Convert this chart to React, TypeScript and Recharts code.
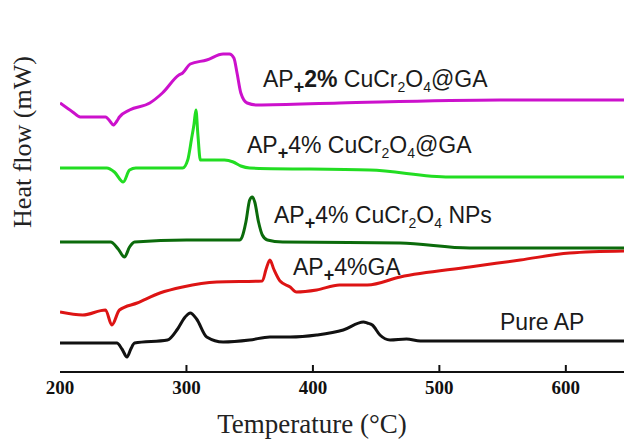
import { LineChart, Line, XAxis, YAxis } from "recharts";

// temperature (°C) / heat flow (arbitrary, stacked offsets)
const pureApT = [200, 245, 249, 253, 256, 259, 285, 293, 299, 303, 308, 316, 329, 350, 366, 382, 403, 424, 440, 443, 447, 453, 461, 474, 485, 646];
const pureApQ = [29, 29, 23, 15, 23, 29, 32, 43, 55, 59, 53, 35, 30, 32, 35, 35, 37, 42, 50, 49, 47, 37, 32, 33, 31, 31];

const gaT = [200, 218, 236, 241, 247, 261, 279, 297, 324, 360, 363, 366, 369, 374, 382, 387, 403, 421, 443, 469, 524, 564, 603, 646];
const gaQ = [60, 57, 62, 47, 62, 69, 79, 85, 90, 91, 103, 112, 103, 91, 85, 80, 82, 87, 87, 95, 105, 112, 119, 121];

const npT = [200, 240, 246, 251, 255, 259, 300, 342, 344, 347, 350, 352, 354, 357, 360, 364, 376, 469, 524, 646];
const npQ = [130, 130, 123, 115, 125, 130, 132, 132, 135, 150, 172, 175, 170, 150, 137, 132, 130, 129, 124, 124];

const ga4T = [200, 237, 243, 250, 255, 260, 297, 301, 304, 306, 307.5, 309, 311, 316, 330, 337, 343, 350, 445, 508, 646];
const ga4Q = [204, 204, 200, 190, 202, 204, 204, 212, 233, 248, 262, 238, 212, 212, 212, 210, 206, 204, 202, 195, 195];

const ga2T = [200, 210, 216, 236, 240, 242, 245, 247, 255, 271, 281, 294, 297, 303, 316, 329, 334, 337.5, 340, 343, 348, 356, 421, 548, 646];
const ga2Q = [269, 260, 255, 255, 250, 247, 251, 255, 262, 269, 279, 297, 299, 308, 312, 318, 318, 314, 299, 279, 269, 267, 269, 272, 272];

const xTicks = [200, 300, 400, 500, 600];

const zip = (t: number[], q: number[]) => t.map((v, i) => ({ t: v, q: q[i] }));

const series = [
  { name: "pure", data: zip(pureApT, pureApQ), color: "#111111" },
  { name: "ga", data: zip(gaT, gaQ), color: "#dd1414" },
  { name: "np", data: zip(npT, npQ), color: "#0b6b0b" },
  { name: "ga4", data: zip(ga4T, ga4Q), color: "#22dd22" },
  { name: "ga2", data: zip(ga2T, ga2Q), color: "#cc11cc" },
];

const sans = "'Liberation Sans', Arial, sans-serif";
const serif = "'Liberation Serif', 'Times New Roman', serif";

// [text, baseline shift, font size, weight]
type Seg = [string, number, number?, string?];
const P: Seg = ["+", 6, 18, "bold"];
const s2: Seg = ["2", 5, 14];
const s4: Seg = ["4", 5, 14];

const labels: { x: number; y: number; segs: Seg[] }[] = [
  { x: 263, y: 87, segs: [["AP", 0], P, ["2%", 0, undefined, "bold"], [" CuCr", 0], s2, ["O", 0], s4, ["@GA", 0]] },
  { x: 247, y: 153, segs: [["AP", 0], P, ["4% CuCr", 0], s2, ["O", 0], s4, ["@GA", 0]] },
  { x: 274, y: 223, segs: [["AP", 0], P, ["4% CuCr", 0], s2, ["O", 0], s4, [" NPs", 0]] },
  { x: 293, y: 275, segs: [["AP", 0], P, ["4%GA", 0]] },
  { x: 500, y: 330, segs: [["Pure AP", 0]] },
];

function Label({ x, y, segs }: { x: number; y: number; segs: Seg[] }) {
  let prev = 0;
  return (
    <text x={x} y={y} fontFamily={sans} fontSize={23} fill="#1a1a1a">
      {segs.map(([txt, shift, size, w], i) => {
        const dy = shift - prev;
        prev = shift;
        return (
          <tspan key={i} dy={dy} fontSize={size} fontWeight={w}>
            {txt}
          </tspan>
        );
      })}
    </text>
  );
}

function XTick(props: any) {
  const { x, y, payload } = props;
  return (
    <g>
      {payload.value !== 200 && (
        <line x1={x} x2={x} y1={y} y2={y - 7} stroke="#111" strokeWidth={2} />
      )}
      <text
        x={x}
        y={y + 22}
        textAnchor="middle"
        fontFamily={serif}
        fontWeight="bold"
        fontSize={19}
        fill="#111"
      >
        {payload.value}
      </text>
    </g>
  );
}

export default function App() {
  return (
    <div style={{ position: "absolute", left: 0, top: 0, width: 624, height: 439, background: "#fff" }}>
      <LineChart width={624} height={439} margin={{ top: 14, right: 0, bottom: 0, left: 60 }}>
        <XAxis
          type="number"
          dataKey="t"
          domain={[200, 646]}
          ticks={xTicks}
          allowDataOverflow
          height={67}
          stroke="#111"
          strokeWidth={2}
          tickLine={false}
          tickSize={0}
          tickMargin={0}
          tick={<XTick />}
        />
        <YAxis
          type="number"
          domain={[0, 358]}
          width={0}
          tick={false}
          tickLine={false}
          stroke="#111"
          strokeWidth={2}
        />
        {series.map((s) => (
          <Line
            key={s.name}
            data={s.data}
            dataKey="q"
            type="monotone"
            stroke={s.color}
            strokeWidth={3}
            dot={false}
            isAnimationActive={false}
          />
        ))}
        {labels.map((l, i) => (
          <Label key={i} {...l} />
        ))}
        <text x={312} y={433} textAnchor="middle" fontFamily={serif} fontSize={27} fill="#222">
          Temperature (°C)
        </text>
        <text
          x={0}
          y={0}
          transform="translate(31,142) rotate(-90)"
          textAnchor="middle"
          fontFamily={serif}
          fontSize={26}
          fill="#222"
        >
          Heat flow (mW)
        </text>
      </LineChart>
    </div>
  );
}
